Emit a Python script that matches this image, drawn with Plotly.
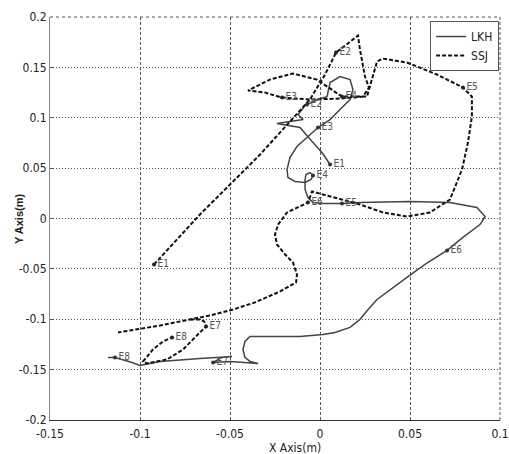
import plotly.graph_objects as go

# LKH trajectory (solid)
lkh_x = [0.0056, 0.0011, -0.0044, -0.0094, -0.0111, -0.0239, -0.0094, -0.0122, -0.0083, -0.0072,
         -0.0011, 0.0039, 0.0056, 0.0111, 0.0167, 0.0183, 0.0167, 0.0111, 0.0056, -0.0011,
         -0.0067, -0.0128, -0.0167, -0.0183, -0.0178, -0.0139, -0.0083, -0.0050, -0.0039, -0.0056,
         -0.0078, -0.0083, -0.0083, -0.0067, -0.0039, 0.0011, 0.0122, 0.0222, 0.05, 0.0722,
         0.0872, 0.0917, 0.0889, 0.0794, 0.0706, 0.0583, 0.0483, 0.0389, 0.0317, 0.0267,
         0.0222, 0.0167, 0.0083, 0.0017, -0.0111, -0.0389, -0.0417, -0.0428, -0.0417, -0.0389,
         -0.0344, -0.05, -0.0594, -0.0544, -0.0489, -0.0667, -0.0889, -0.0972, -0.1, -0.1044,
         -0.1139, -0.1178]
lkh_y = [0.0536, 0.0655, 0.0764, 0.0863, 0.0903, 0.0942, 0.0982, 0.1032, 0.1121, 0.1131,
         0.1181, 0.1210, 0.1349, 0.1409, 0.1379, 0.1280, 0.1181, 0.1081, 0.0982, 0.0903,
         0.0813, 0.0714, 0.0605, 0.0486, 0.0407, 0.0367, 0.0357, 0.0387, 0.0427, 0.0456,
         0.0437, 0.0387, 0.0288, 0.0208, 0.0159, 0.0149, 0.0149, 0.0159, 0.0169, 0.0159,
         0.0109, 0.0020, -0.0060, -0.0188, -0.0317, -0.0456, -0.0585, -0.0704, -0.0804, -0.0903,
         -0.1002, -0.1081, -0.1131, -0.1151, -0.1171, -0.1171, -0.1220, -0.1300, -0.1379, -0.1419,
         -0.1438, -0.1419, -0.1429, -0.1379, -0.1369, -0.1389, -0.1419, -0.1448, -0.1458, -0.1429,
         -0.1379, -0.1379]

# SSJ trajectory (dashed)
ssj_x = [-0.0922, -0.0667, -0.05, -0.0333, -0.0167, -0.0056, 0.0028, 0.0089, 0.0211, 0.0222,
         0.025, 0.0272, 0.0239, 0.0111, -0.0056, -0.0211, -0.0306, -0.04, -0.0278, -0.015,
         -0.0017, 0.0067, 0.0122, 0.0261, 0.0289, 0.0317, 0.035, 0.0483, 0.065, 0.0794,
         0.0844, 0.0844, 0.0822, 0.0789, 0.0722, 0.0611, 0.0483, 0.035, 0.0222, 0.0072,
         -0.0044, -0.0067, -0.0122, -0.0183, -0.0233, -0.025, -0.0239, -0.0194, -0.015, -0.0128,
         -0.0133, -0.0222, -0.0361, -0.0483, -0.0611, -0.0722, -0.0889, -0.1122, None,
         -0.0722, -0.0667, -0.0644, -0.0633, -0.0667, -0.0761, -0.085, -0.0961, -0.0983, -0.0928,
         -0.0872, -0.0822]
ssj_y = [-0.0456, 0.004, 0.0337, 0.0635, 0.0962, 0.1181, 0.1429, 0.1647, 0.1815, 0.1677,
         0.1409, 0.1300, 0.1210, 0.1190, 0.1181, 0.1200, 0.125, 0.127, 0.1379, 0.1438,
         0.1379, 0.128, 0.121, 0.121, 0.1379, 0.1558, 0.1587, 0.1548, 0.1429, 0.13,
         0.121, 0.1012, 0.0754, 0.0486, 0.0188, 0.006, 0.002, 0.006, 0.0139, 0.0208,
         0.0268, 0.0159, 0.0109, 0.006, -0.006, -0.0159, -0.0258, -0.0357, -0.0437, -0.0556,
         -0.0635, -0.0724, -0.0833, -0.0903, -0.0962, -0.1002, -0.1062, -0.1131, None,
         -0.1002, -0.1002, -0.1022, -0.1071, -0.1131, -0.13, -0.1399, -0.1438, -0.1419, -0.13,
         -0.122, -0.118]

# Event markers
event_labels = ["E1", "E2", "E3", "E4", "E5", "E6", "E7", "E8"]
lkh_ev_x = [0.0056, -0.0072, -0.0011, -0.0039, 0.0122, 0.0706, -0.0594, -0.1139]
lkh_ev_y = [0.0536, 0.1131, 0.0903, 0.0427, 0.0149, -0.0317, -0.1429, -0.1379]
ssj_ev_x = [-0.0922, 0.0089, -0.0211, 0.0122, 0.0794, -0.0067, -0.0633, -0.0822]
ssj_ev_y = [-0.0456, 0.1647, 0.1200, 0.1210, 0.1300, 0.0159, -0.1071, -0.118]

x_ticks = [-0.15, -0.1, -0.05, 0, 0.05, 0.1]
x_ticktext = ["-0.15", "-0.1", "-0.05", "0", "0.05", "0.1"]
y_ticks = [-0.2, -0.15, -0.1, -0.05, 0, 0.05, 0.1, 0.15, 0.2]
y_ticktext = ["-0.2", "-0.15", "-0.1", "-0.05", "0", "0.05", "0.1", "0.15", "0.2"]

FONT = "Liberation Sans Narrow, DejaVu Sans Condensed, Liberation Sans, Arial"

fig = go.Figure()
fig.add_trace(go.Scatter(x=lkh_x, y=lkh_y, mode="lines", name="LKH",
                         line=dict(color="#444444", width=1.5)))
fig.add_trace(go.Scatter(x=ssj_x, y=ssj_y, mode="lines", name="SSJ",
                         line=dict(color="#111111", width=2, dash="4px,2px"), connectgaps=False))
fig.add_trace(go.Scatter(x=lkh_ev_x, y=lkh_ev_y, mode="markers+text", text=event_labels,
                         textposition="middle right", showlegend=False,
                         marker=dict(symbol="circle", size=4, color="#333333"),
                         textfont=dict(family=FONT, size=10, color="#555555")))
fig.add_trace(go.Scatter(x=ssj_ev_x, y=ssj_ev_y, mode="markers+text", text=event_labels,
                         textposition="middle right", showlegend=False,
                         marker=dict(symbol="circle", size=4, color="#222222"),
                         textfont=dict(family=FONT, size=10, color="#555555")))

# frame lines (top and right dotted)
fig.add_shape(type="line", xref="paper", yref="paper", x0=0, x1=1, y0=1, y1=1,
              line=dict(color="#555555", width=1, dash="dot"))
fig.add_shape(type="line", xref="paper", yref="paper", x0=1, x1=1, y0=0, y1=1,
              line=dict(color="#555555", width=1, dash="3px,2px"))

fig.update_layout(
    width=509, height=454,
    margin=dict(l=50, r=9, t=17, b=34, autoexpand=False),
    paper_bgcolor="white", plot_bgcolor="white",
    font=dict(family=FONT, size=12, color="#222222"),
    legend=dict(x=0.998, y=0.99, xanchor="right", yanchor="top",
                bordercolor="#555555", borderwidth=1, bgcolor="white",
                font=dict(family=FONT, size=12, color="#222222"),
                tracegroupgap=2, itemwidth=30),
    annotations=[
        dict(text="X Axis(m)", x=0.545, y=-0.069, xref="paper", yref="paper",
             showarrow=False, yanchor="middle", font=dict(family=FONT, size=12, color="#222222")),
        dict(text="<b>Y Axis(m)</b>", x=-0.07, y=0.5, xref="paper", yref="paper",
             showarrow=False, textangle=-90, xanchor="center",
             font=dict(family="Liberation Sans, Arial", size=11, color="#222222")),
    ],
)
fig.update_xaxes(range=[-0.15, 0.1], tickvals=x_ticks, ticktext=x_ticktext, automargin=False,
                 showgrid=True, gridcolor="#555555", griddash="3px,2px", gridwidth=1,
                 showline=True, linecolor="#333333", linewidth=1, zeroline=False,
                 ticks="inside", ticklen=3, tickcolor="#555555", ticklabelstandoff=3)
fig.update_yaxes(range=[-0.2, 0.2], tickvals=y_ticks, ticktext=y_ticktext, automargin=False,
                 showgrid=True, gridcolor="#555555", griddash="1px,2px", gridwidth=1,
                 showline=True, linecolor="#888888", linewidth=1, zeroline=False,
                 ticks="inside", ticklen=3, tickcolor="#555555")

fig.write_html("out.html", config={"displayModeBar": False},
               post_script="document.body.style.margin='0';document.body.style.padding='0';")
